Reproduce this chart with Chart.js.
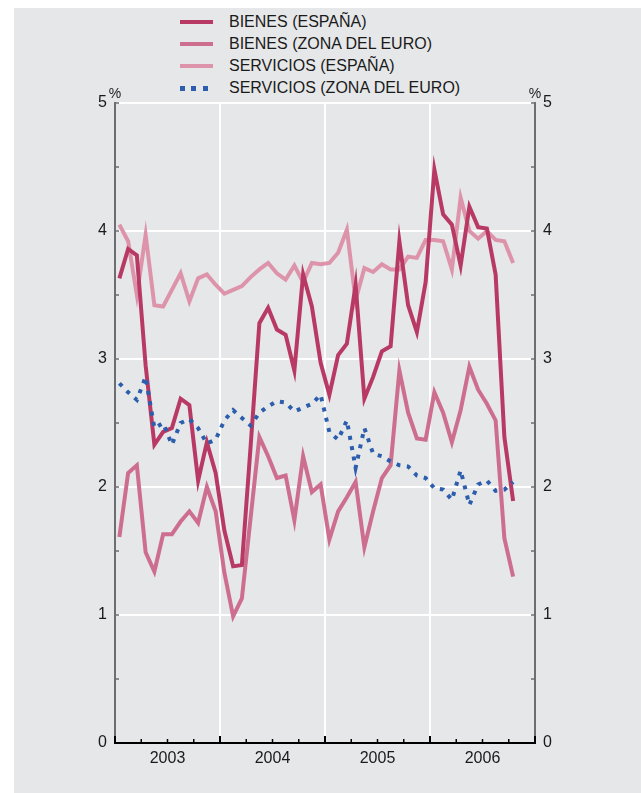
<!DOCTYPE html>
<html lang="es">
<head>
<meta charset="utf-8">
<script src="https://cdn.jsdelivr.net/npm/chart.js@4.4.1/dist/chart.umd.min.js"></script>
<style>
  html, body { margin: 0; padding: 0; background: #fff; }
  body { width: 641px; height: 793px; position: relative; overflow: hidden; font-family: "Liberation Sans", Arial, sans-serif; }
  #panel { position: absolute; left: 14px; top: 8px; width: 627px; height: 785px; background: #e6e7e8; }
  #grafico { position: absolute; left: 0; top: 0; }
  .fila { position: absolute; left: 166px; height: 22px; display: flex; align-items: center; font-size: 16px; color: #1a1a1a; white-space: nowrap; }
  .muestra { width: 33px; height: 4px; margin-right: 16px; }
</style>
</head>
<body>
<div id="panel">
  <div id="leyenda"></div>
  <canvas id="grafico" width="627" height="785"></canvas>
</div>
<script>
// Series mensuales, enero 2003 - octubre 2006 (%)
const anos = ['2003', '2004', '2005', '2006'];

const bienesEspana = [3.63, 3.86, 3.81, 2.95, 2.33, 2.43, 2.46, 2.69, 2.64, 2.05, 2.35, 2.11,
  1.66, 1.38, 1.39, 2.32, 3.28, 3.40, 3.23, 3.19, 2.91, 3.66, 3.41, 2.97,
  2.72, 3.03, 3.12, 3.58, 2.69, 2.86, 3.06, 3.10, 3.92, 3.42, 3.21, 3.60,
  4.48, 4.13, 4.05, 3.73, 4.19, 4.03, 4.02, 3.66, 2.39, 1.89];

const bienesEuro = [1.61, 2.11, 2.17, 1.49, 1.34, 1.63, 1.63, 1.73, 1.81, 1.72, 2.00, 1.81,
  1.33, 0.99, 1.13, 1.76, 2.39, 2.24, 2.07, 2.09, 1.74, 2.24, 1.96, 2.02,
  1.59, 1.81, 1.92, 2.04, 1.53, 1.81, 2.07, 2.17, 2.91, 2.58, 2.38, 2.37,
  2.74, 2.58, 2.35, 2.60, 2.94, 2.76, 2.65, 2.52, 1.60, 1.30];

const serviciosEspana = [4.05, 3.92, 3.50, 3.97, 3.42, 3.41, 3.54, 3.67, 3.45, 3.63, 3.66, 3.58,
  3.51, 3.54, 3.57, 3.64, 3.70, 3.75, 3.67, 3.62, 3.73, 3.60, 3.75, 3.74,
  3.75, 3.83, 4.01, 3.46, 3.71, 3.68, 3.74, 3.70, 3.70, 3.80, 3.79, 3.93,
  3.93, 3.92, 3.70, 4.26, 4.00, 3.94, 4.00, 3.93, 3.92, 3.75];

const serviciosEuro = [2.81, 2.74, 2.68, 2.86, 2.46, 2.50, 2.33, 2.50, 2.53, 2.46, 2.34, 2.37,
  2.52, 2.60, 2.54, 2.48, 2.58, 2.63, 2.67, 2.66, 2.59, 2.62, 2.65, 2.72,
  2.43, 2.37, 2.52, 2.15, 2.46, 2.26, 2.24, 2.20, 2.17, 2.16, 2.09, 2.07,
  1.99, 1.98, 1.90, 2.13, 1.86, 2.02, 2.05, 1.97, 1.98, 2.04];

const FONDO = '#e6e7e8';
const GRIS_EJE = '#6d6e71';
const TEXTO = '#1a1a1a';

const series = [
  { nombre: 'BIENES (ESPAÑA)', datos: bienesEspana, color: '#b83a64', punteada: false, orden: 1 },
  { nombre: 'BIENES (ZONA DEL EURO)', datos: bienesEuro, color: '#cd6e8f', punteada: false, orden: 2 },
  { nombre: 'SERVICIOS (ESPAÑA)', datos: serviciosEspana, color: '#dd94ab', punteada: false, orden: 3 },
  { nombre: 'SERVICIOS (ZONA DEL EURO)', datos: serviciosEuro, color: '#2c5ead', punteada: true, orden: 0 }
];

// Leyenda en HTML
const leyenda = document.getElementById('leyenda');
series.forEach((s, i) => {
  const fila = document.createElement('div');
  fila.className = 'fila';
  fila.style.top = (3 + i * 22) + 'px';
  const muestra = document.createElement('span');
  muestra.className = 'muestra';
  if (s.punteada) {
    muestra.style.height = '5px';
    muestra.style.background = `repeating-linear-gradient(to right, ${s.color} 0 5px, transparent 5px 11.5px)`;
  } else {
    muestra.style.background = s.color;
  }
  fila.appendChild(muestra);
  fila.appendChild(document.createTextNode(s.nombre));
  leyenda.appendChild(fila);
});

// Ejes, marcas y símbolos de porcentaje
const ejes = {
  id: 'ejes',
  afterDraw(chart) {
    const { ctx, chartArea: a, scales } = chart;
    const linea = (x1, y1, x2, y2) => { ctx.beginPath(); ctx.moveTo(x1, y1); ctx.lineTo(x2, y2); ctx.stroke(); };
    ctx.save();
    ctx.strokeStyle = GRIS_EJE;
    ctx.lineWidth = 1.5;
    scales.y.ticks.forEach(t => {
      const py = scales.y.getPixelForValue(t.value);
      linea(a.left, py, a.left + 4, py);
      linea(a.right - 4, py, a.right, py);
    });
    ctx.lineWidth = 2;
    linea(a.left, a.top - 1, a.left, a.bottom);
    linea(a.right, a.top - 1, a.right, a.bottom);

    ctx.strokeStyle = '#000';
    scales.x.ticks.forEach(t => {
      const px = scales.x.getPixelForValue(t.value);
      const largo = t.value % 12 === 0 ? 7 : 4;
      ctx.lineWidth = t.value % 12 === 0 ? 2 : 1.5;
      linea(px, a.bottom, px, a.bottom - largo);
    });
    ctx.lineWidth = 2.2;
    linea(a.left - 1, a.bottom, a.right + 1, a.bottom);

    ctx.fillStyle = TEXTO;
    ctx.font = '14px "Liberation Sans", Arial, sans-serif';
    ctx.textAlign = 'center';
    ctx.textBaseline = 'alphabetic';
    ctx.fillText('%', a.left, a.top - 5);
    ctx.fillText('%', a.right, a.top - 5);
    ctx.restore();
  }
};

const ejeY = (posicion, conRejilla, ancho) => ({
  position: posicion,
  min: 0,
  max: 5,
  afterFit: (escala) => { escala.width = ancho; },
  border: { display: false },
  grid: {
    display: conRejilla,
    drawTicks: false,
    lineWidth: 2,
    color: (c) => (c.tick && Number.isInteger(c.tick.value) && c.tick.value > 0) ? '#ffffff' : 'rgba(0,0,0,0)'
  },
  ticks: {
    stepSize: 0.5,
    padding: 8,
    color: TEXTO,
    font: { family: '"Liberation Sans", Arial, sans-serif', size: 16 },
    callback: (v) => Number.isInteger(v) ? String(v) : ''
  }
});

new Chart(document.getElementById('grafico').getContext('2d'), {
  type: 'line',
  data: {
    datasets: series.map(s => ({
      label: s.nombre,
      data: s.datos.map((v, i) => ({ x: i + 0.5, y: v })),
      borderColor: s.color,
      backgroundColor: s.color,
      borderWidth: 4,
      borderDash: s.punteada ? [4, 6.5] : [],
      borderCapStyle: 'butt',
      borderJoinStyle: 'miter',
      pointRadius: 0,
      tension: 0,
      fill: false,
      order: s.orden,
      yAxisID: 'y'
    }))
  },
  options: {
    responsive: false,
    animation: false,
    devicePixelRatio: 1,
    layout: { padding: { top: 95, left: 0, right: 0, bottom: 0 } },
    plugins: { legend: { display: false }, tooltip: { enabled: false } },
    scales: {
      x: {
        type: 'linear',
        min: 0,
        max: anos.length * 12,
        afterFit: (escala) => { escala.height = 50; },
        border: { display: false },
        grid: {
          drawTicks: false,
          lineWidth: 2,
          color: (c) => (c.tick && c.tick.value % 12 === 0 && c.tick.value > 0 && c.tick.value < anos.length * 12) ? '#ffffff' : 'rgba(0,0,0,0)'
        },
        ticks: {
          stepSize: 3,
          autoSkip: false,
          maxRotation: 0,
          padding: 6,
          color: TEXTO,
          font: { family: '"Liberation Sans", Arial, sans-serif', size: 16 },
          callback: (v) => (v % 12 === 6) ? anos[(v - 6) / 12] : ''
        }
      },
      y: ejeY('left', true, 101),
      y2: ejeY('right', false, 106)
    }
  },
  plugins: [ejes]
});
</script>
</body>
</html>
